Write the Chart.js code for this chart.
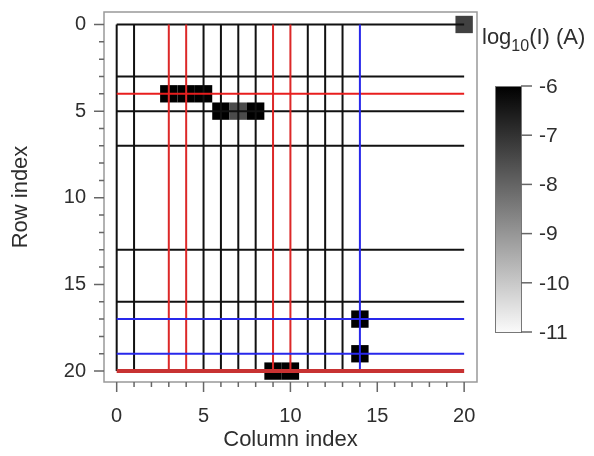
<!DOCTYPE html>
<html>
<head>
<meta charset="utf-8">
<script src="https://cdn.jsdelivr.net/npm/chart.js@4/dist/chart.umd.min.js"></script>
<style>
  html, body { margin: 0; padding: 0; background: #fff; }
  #wrap { width: 594px; height: 456px; }
</style>
</head>
<body>
<div id="wrap"><canvas id="chart" width="594" height="456"></canvas></div>
<script>
// grid lines (column / row indices)
const vBlack = [0, 1, 5, 6, 7, 8, 11, 12, 13];
const vRed = [3, 4, 9, 10];
const vBlue = [14];
const hBlack = [0, 3, 5, 7, 13, 16];
const hRed = [4];
const hRedThick = [20];
const hBlue = [17, 19];
const lineStart = 0;
const lineEnd = 20;

// measured cells: column, row, log10(I)
const cellCols = [20, 3, 4, 5, 6, 7, 8, 14, 14, 9, 10];
const cellRows = [0, 4, 4, 4, 5, 5, 5, 17, 19, 20, 20];
const cellLogI = [-7.3, -6, -6, -6, -6, -7.5, -6, -6, -6, -6, -6];

// axis ticks
const majorTicks = [0, 5, 10, 15, 20];
const minorTicks = [0, 1, 2, 3, 4, 5, 6, 7, 8, 9, 10, 11, 12, 13, 14, 15, 16, 17, 18, 19, 20];

// colour bar
const cbMax = -6;
const cbMin = -11;
const cbTicks = [-6, -7, -8, -9, -10, -11];

const FONT = "'Liberation Sans', Arial, sans-serif";
const TEXT = '#2e2e2e';

function grayFor(v) {
    const t = (v - cbMin) / (cbMax - cbMin);
    const g = Math.round(250 * (1 - Math.max(0, Math.min(1, t))));
    return 'rgb(' + g + ',' + g + ',' + g + ')';
}

function vLines(cols, color, width) {
    return cols.map(c => ({
        data: [{ x: c, y: lineStart }, { x: c, y: lineEnd }],
        borderColor: color,
        borderWidth: width
    }));
}

function hLines(rows, color, width) {
    return rows.map(r => ({
        data: [{ x: lineStart, y: r }, { x: lineEnd, y: r }],
        borderColor: color,
        borderWidth: width
    }));
}

// first datasets are drawn on top
const datasets = [].concat(
    hLines(hRedThick, 'rgb(200,50,50)', 4),
    hLines(hBlue, 'rgb(40,40,235)', 2),
    vLines(vBlue, 'rgb(40,40,235)', 2),
    hLines(hRed, 'rgb(232,30,30)', 2),
    vLines(vRed, 'rgb(220,40,40)', 2),
    hLines(hBlack, '#111', 2),
    vLines(vBlack, '#111', 2)
).map(d => Object.assign(d, {
    showLine: true,
    pointRadius: 0,
    pointHoverRadius: 0,
    fill: false,
    clip: false
}));

const cellsPlugin = {
    id: 'cells',
    beforeDatasetsDraw(chart) {
        const ctx = chart.ctx;
        const xs = chart.scales.x;
        const ys = chart.scales.y;
        ctx.save();
        for (let i = 0; i < cellCols.length; i++) {
            const x0 = xs.getPixelForValue(cellCols[i] - 0.5);
            const x1 = xs.getPixelForValue(cellCols[i] + 0.5);
            const y0 = ys.getPixelForValue(cellRows[i] - 0.5);
            const y1 = ys.getPixelForValue(cellRows[i] + 0.5);
            ctx.fillStyle = grayFor(cellLogI[i]);
            ctx.fillRect(Math.min(x0, x1), Math.min(y0, y1), Math.abs(x1 - x0), Math.abs(y1 - y0));
        }
        ctx.restore();
    }
};

const framePlugin = {
    id: 'frame',
    afterDraw(chart) {
        const ctx = chart.ctx;
        const a = chart.chartArea;
        const xs = chart.scales.x;
        const ys = chart.scales.y;
        ctx.save();
        ctx.strokeStyle = '#999';
        ctx.lineWidth = 1.5;
        ctx.strokeRect(a.left, a.top, a.right - a.left, a.bottom - a.top);
        ctx.strokeStyle = '#666';
        ctx.lineWidth = 1.5;
        ctx.beginPath();
        minorTicks.forEach(v => {
            const len = majorTicks.includes(v) ? 10 : 5;
            const px = xs.getPixelForValue(v);
            ctx.moveTo(px, a.bottom);
            ctx.lineTo(px, a.bottom + len);
            const py = ys.getPixelForValue(v);
            ctx.moveTo(a.left, py);
            ctx.lineTo(a.left - len, py);
        });
        ctx.stroke();
        ctx.restore();
    }
};

const colorbarPlugin = {
    id: 'colorbar',
    afterDraw(chart) {
        const ctx = chart.ctx;
        const left = 495, right = 521, top = 86, bottom = 332;
        const yFor = v => top + (cbMax - v) / (cbMax - cbMin) * (bottom - top);
        ctx.save();
        const grad = ctx.createLinearGradient(0, top, 0, bottom);
        grad.addColorStop(0, grayFor(cbMax));
        grad.addColorStop(1, grayFor(cbMin));
        ctx.fillStyle = grad;
        ctx.fillRect(left, top, right - left, bottom - top);
        ctx.strokeStyle = '#777';
        ctx.lineWidth = 1;
        ctx.strokeRect(left + 0.5, top + 0.5, right - left, bottom - top);

        ctx.strokeStyle = '#666';
        ctx.lineWidth = 1.5;
        ctx.fillStyle = TEXT;
        ctx.font = '21px ' + FONT;
        ctx.textAlign = 'left';
        ctx.textBaseline = 'middle';
        cbTicks.forEach(v => {
            const y = yFor(v);
            ctx.beginPath();
            ctx.moveTo(right, y);
            ctx.lineTo(right + 11, y);
            ctx.stroke();
            ctx.fillText(String(v), 539, y + 1);
        });

        // title: log10(I) (A)
        ctx.textBaseline = 'alphabetic';
        let x = 482;
        ctx.font = '22px ' + FONT;
        ctx.fillText('log', x, 44);
        x += ctx.measureText('log').width;
        ctx.font = '16px ' + FONT;
        ctx.fillText('10', x, 51);
        x += ctx.measureText('10').width;
        ctx.font = '22px ' + FONT;
        ctx.fillText('(I) (A)', x, 44);
        ctx.restore();
    }
};

new Chart(document.getElementById('chart').getContext('2d'), {
    type: 'scatter',
    data: { datasets: datasets },
    plugins: [cellsPlugin, framePlugin, colorbarPlugin],
    options: {
        responsive: false,
        animation: false,
        events: [],
        layout: { padding: { top: 12, right: 117, left: 0, bottom: 0 } },
        plugins: {
            legend: { display: false },
            tooltip: { enabled: false }
        },
        scales: {
            x: {
                type: 'linear',
                position: 'bottom',
                min: -0.73,
                max: 20.74,
                afterFit(scale) {
                    scale.height = 74;
                    scale.paddingLeft = 0;
                    scale.paddingRight = 0;
                },
                afterBuildTicks(scale) { scale.ticks = majorTicks.map(v => ({ value: v })); },
                grid: { display: true, drawOnChartArea: false, drawTicks: false },
                border: { display: false },
                ticks: {
                    padding: 22,
                    color: TEXT,
                    font: { family: FONT, size: 20 },
                    maxRotation: 0,
                    autoSkip: false
                },
                title: {
                    display: true,
                    text: 'Column index',
                    color: TEXT,
                    font: { family: FONT, size: 22 },
                    padding: { top: 0, bottom: 3 }
                }
            },
            y: {
                type: 'linear',
                position: 'left',
                reverse: true,
                min: -0.72,
                max: 20.63,
                afterFit(scale) {
                    scale.width = 104;
                    scale.paddingTop = 0;
                    scale.paddingBottom = 0;
                },
                afterBuildTicks(scale) { scale.ticks = majorTicks.map(v => ({ value: v })); },
                grid: { display: true, drawOnChartArea: false, drawTicks: false },
                border: { display: false },
                ticks: {
                    padding: 18,
                    color: TEXT,
                    font: { family: FONT, size: 20 },
                    autoSkip: false
                },
                title: {
                    display: true,
                    text: 'Row index',
                    color: TEXT,
                    font: { family: FONT, size: 22 },
                    padding: { top: 8, bottom: 0 }
                }
            }
        }
    }
});
</script>
</body>
</html>
